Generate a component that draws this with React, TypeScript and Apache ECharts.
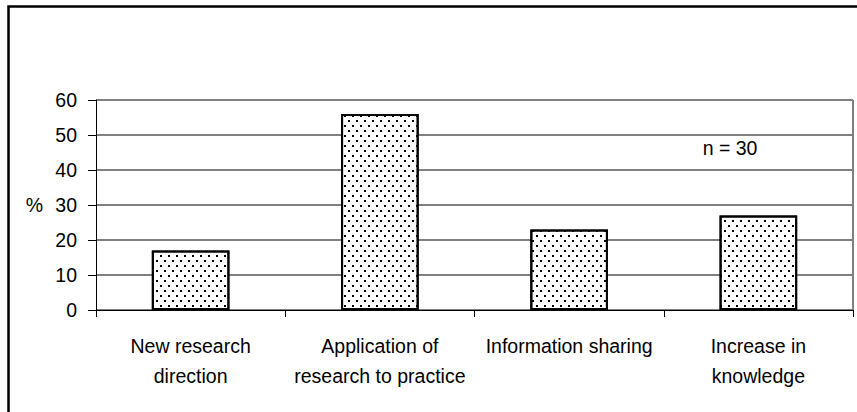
import React, { useEffect, useRef } from "react";
import * as echarts from "echarts";

const categories = [
  "New research\ndirection",
  "Application of\nresearch to practice",
  "Information sharing",
  "Increase in\nknowledge",
];
const values = [17, 56, 23, 27];
const yTicks = [0, 10, 20, 30, 40, 50, 60];
const note = "n = 30";
const yName = "%";

const FONT = "'Liberation Sans', Arial, sans-serif";

export default function App() {
  const ref = useRef<HTMLDivElement>(null);
  useEffect(() => {
    if (!ref.current) return;
    const chart = echarts.init(ref.current, null, { renderer: "svg" });
    chart.setOption({
      animation: false,
      backgroundColor: "#fff",
      grid: { left: 96, right: 4, top: 100, bottom: 102, containLabel: false },
      xAxis: {
        type: "category",
        data: categories,
        boundaryGap: true,
        axisLine: { show: true, lineStyle: { color: "#000", width: 1 } },
        axisTick: { show: true, alignWithLabel: false, length: 7, lineStyle: { color: "#000" } },
        axisLabel: {
          interval: 0,
          margin: 21,
          color: "#000",
          fontFamily: FONT,
          fontSize: 19.5,
          lineHeight: 30,
        },
        splitLine: { show: false },
      },
      yAxis: {
        type: "value",
        min: yTicks[0],
        max: yTicks[yTicks.length - 1],
        interval: 10,
        name: yName,
        nameLocation: "middle",
        nameRotate: 0,
        nameGap: 53,
        nameTextStyle: { color: "#000", fontFamily: FONT, fontSize: 19.5 },
        axisLine: { show: true, lineStyle: { color: "#000", width: 1 } },
        axisTick: { show: true, inside: false, length: 8, lineStyle: { color: "#000" } },
        axisLabel: { margin: 19, color: "#000", fontFamily: FONT, fontSize: 19.5 },
        splitLine: { show: true, lineStyle: { color: "#808080", width: 2 } },
      },
      graphic: [
        {
          type: "rect",
          left: 6,
          top: 4,
          shape: { x: 0, y: 0, width: 900, height: 500 },
          style: { fill: "none", stroke: "#000", lineWidth: 2.5 },
          silent: true,
          z: 100,
        },
        {
          type: "line",
          shape: { x1: 853, y1: 100, x2: 853, y2: 310 },
          style: { stroke: "#808080", lineWidth: 2 },
          silent: true,
        },
        {
          type: "text",
          x: 730,
          y: 148,
          style: {
            text: note,
            fill: "#000",
            font: `19.5px ${FONT}`,
            align: "center",
            verticalAlign: "middle",
          },
        },
      ],
      series: [
        {
          type: "bar",
          data: values,
          barWidth: "41%",
          itemStyle: {
            color: "#fff",
            borderColor: "#000",
            borderWidth: 2,
            decal: {
              symbol: "rect",
              symbolSize: 1,
              color: "#000",
              dashArrayX: [
                [1.5, 5.5],
                [0, 3.5, 1.5, 2],
              ],
              dashArrayY: [1.5, 2.5],
              rotation: 0,
            },
          },
        },
      ],
    });
    return () => chart.dispose();
  }, []);
  return (
    <div
      ref={ref}
      style={{ position: "fixed", left: 0, top: 0, width: 857, height: 412 }}
    />
  );
}
